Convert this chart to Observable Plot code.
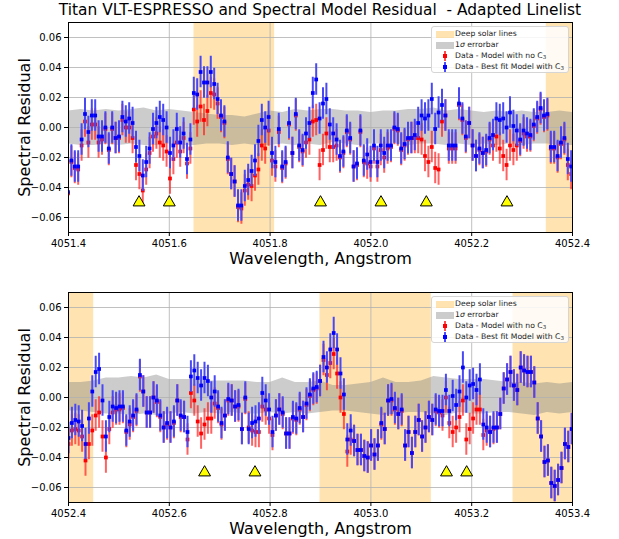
<!DOCTYPE html>
<html><head><meta charset="utf-8">
<script src="https://cdn.jsdelivr.net/npm/d3@7"></script>
<script src="https://cdn.jsdelivr.net/npm/@observablehq/plot@0.6"></script>
<style>
body{margin:0;background:#fff;font-family:"DejaVu Sans",sans-serif;}
#wrap{position:relative;width:619px;height:539px;overflow:hidden;background:#fff;}
#title{position:absolute;left:0;width:640px;top:0px;text-align:center;font-size:15.4px;line-height:20px;color:#000;white-space:nowrap;}
.panel{position:absolute;left:0;}
.legend{position:absolute;left:431px;width:138px;height:47px;background:rgba(255,255,255,0.85);border:1px solid #d5d5d5;border-radius:3px;font-size:7.7px;color:#222;box-sizing:border-box;}
.row{position:absolute;left:0;height:10px;width:100%;}
.row .lab{position:absolute;left:23px;top:0;line-height:10px;white-space:nowrap;}
.patch{position:absolute;left:4px;top:2px;width:18px;height:7px;}
.eb{position:absolute;left:12px;top:0;width:2px;height:10px;opacity:0.7;}
.ebd{position:absolute;left:11px;top:3px;width:4px;height:4px;}
g[aria-label="x-axis label"] text, g[aria-label="y-axis label"] text{font-size:16px;}
</style>
</head><body>
<div id="wrap">
<div id="title">Titan VLT-ESPRESSO and Spectral Model Residual&nbsp; - Adapted Linelist</div>
</div>
<script>
// ---------- data ----------
const wlStep = 0.006746;            // spectral sampling (Angstrom)
const wlStart1 = 4051.399;
const wlStart2 = 4052.400;
const errBar = 0.0105;              // 1-sigma half length of each errorbar

const blue1 = [
-0.043,-0.022,-0.026,-0.026,-0.008,0.009,-0.003,0.008,0.008,-0.006,
-0.006,0.000,-0.014,0.000,-0.007,-0.006,0.007,0.004,0.006,0.003,
-0.013,-0.019,-0.032,-0.023,-0.014,-0.001,0.003,0.007,0.005,0.000,
-0.017,-0.012,-0.001,-0.010,-0.004,-0.021,-0.008,0.023,0.022,0.037,
0.030,0.030,0.037,0.029,0.019,0.008,0.004,-0.020,-0.031,
-0.036,-0.052,-0.052,-0.039,-0.035,-0.029,-0.022,-0.009,0.005,0.000,
0.007,-0.017,-0.023,-0.001,-0.026,-0.023,0.003,-0.017,0.009,-0.012,
-0.015,-0.004,0.003,0.023,0.032,0.006,0.016,0.019,0.002,-0.004,
-0.008,-0.019,-0.016,-0.002,-0.007,-0.026,-0.024,-0.002,-0.022,-0.018,
-0.023,-0.012,-0.023,-0.012,-0.017,-0.012,-0.012,0.000,-0.001,-0.014,
-0.011,-0.007,-0.007,-0.005,0.003,0.008,0.006,0.008,0.019,-0.001,
0.010,0.015,0.008,-0.012,-0.012,-0.012,0.016,0.006,-0.006,0.003,
-0.012,-0.019,-0.014,-0.017,-0.015,-0.007,-0.005,0.006,0.005,0.006,
0.000,0.010,0.001,-0.002,-0.008,-0.002,-0.004,-0.005,0.002,0.007,
0.013,0.008,0.009,-0.013,-0.013,-0.019,-0.010,-0.007,-0.021,-0.026];

const red1 = [
-0.044,-0.023,-0.027,-0.028,-0.012,0.004,-0.010,0.002,0.002,-0.010,
-0.008,-0.001,-0.015,-0.001,-0.007,-0.007,0.005,0.000,0.000,-0.007,
-0.025,-0.031,-0.042,-0.028,-0.017,-0.006,-0.004,-0.010,-0.012,-0.016,
-0.034,-0.021,-0.010,-0.016,-0.007,-0.024,-0.014,0.012,0.004,0.014,
0.005,0.011,0.023,0.022,0.016,0.007,0.003,-0.021,-0.031,
-0.036,-0.053,-0.054,-0.042,-0.038,-0.039,-0.032,-0.028,-0.012,-0.014,
-0.002,-0.022,-0.026,-0.003,-0.027,-0.024,0.002,-0.017,0.008,-0.013,
-0.016,-0.010,-0.008,0.004,0.005,-0.025,-0.015,-0.004,-0.013,-0.013,
-0.012,-0.020,-0.017,-0.003,-0.008,-0.026,-0.025,-0.003,-0.023,-0.024,
-0.026,-0.014,-0.026,-0.015,-0.020,-0.014,-0.013,-0.001,-0.002,-0.015,
-0.012,-0.008,-0.007,-0.007,-0.007,-0.008,-0.019,-0.023,-0.013,-0.027,
-0.028,0.004,0.008,-0.014,-0.014,-0.014,0.015,0.005,-0.007,0.003,
-0.012,-0.019,-0.015,-0.017,-0.016,-0.008,-0.012,-0.006,-0.014,-0.019,
-0.025,-0.012,-0.015,-0.012,-0.009,-0.004,-0.006,-0.006,0.001,0.006,
0.012,0.007,0.008,-0.014,-0.014,-0.020,-0.011,-0.008,-0.025,-0.031];

const blue2 = [
-0.027,-0.017,-0.015,-0.016,-0.019,-0.031,-0.014,0.004,0.017,0.019,
-0.002,-0.026,-0.013,-0.006,-0.007,-0.006,-0.006,-0.022,-0.016,-0.012,
-0.008,0.015,0.004,-0.010,-0.010,0.000,-0.002,-0.012,-0.020,-0.017,
-0.020,-0.016,-0.002,-0.012,-0.013,-0.023,0.014,0.018,0.013,0.008,
0.013,0.011,0.000,0.004,-0.006,-0.017,-0.012,-0.001,-0.002,-0.006,
-0.005,-0.021,0.000,-0.021,-0.017,-0.016,-0.014,0.003,-0.002,-0.008,
-0.023,-0.012,-0.008,-0.010,-0.024,-0.024,-0.013,-0.014,-0.007,-0.013,
-0.004,0.002,0.006,0.007,0.011,0.027,0.020,0.032,0.043,0.032,
0.016,0.002,-0.028,-0.022,-0.029,-0.035,-0.035,-0.039,-0.040,-0.032,
-0.038,-0.032,-0.017,-0.021,-0.002,-0.001,-0.007,-0.011,-0.008,
-0.032,-0.023,-0.037,-0.023,-0.015,-0.026,-0.020,-0.013,-0.015,-0.008,
-0.009,-0.009,0.005,-0.009,0.001,-0.005,0.004,0.020,0.000,0.008,
0.009,0.005,0.012,-0.018,-0.020,-0.023,-0.020,-0.020,-0.011,0.006,
0.012,0.017,0.008,0.005,0.020,0.018,0.017,0.017,0.010,-0.014,
-0.026,-0.043,-0.042,-0.057,-0.059,-0.055,-0.047,-0.031,-0.033,-0.021];

const red2 = [
-0.031,-0.022,-0.021,-0.022,-0.026,-0.042,-0.031,-0.022,-0.012,-0.010,
-0.026,-0.040,-0.021,-0.010,-0.008,-0.008,-0.007,-0.023,-0.018,-0.013,
-0.009,0.014,0.004,-0.010,-0.010,0.000,-0.003,-0.013,-0.020,-0.018,
-0.020,-0.017,-0.002,-0.013,-0.013,-0.028,0.003,-0.002,-0.016,-0.024,
-0.018,-0.014,-0.014,-0.004,-0.007,-0.018,-0.012,-0.002,-0.002,-0.006,
-0.006,-0.021,-0.001,-0.020,-0.022,-0.023,-0.023,-0.006,-0.008,-0.014,
-0.025,-0.012,-0.008,-0.011,-0.024,-0.024,-0.014,-0.015,-0.008,-0.013,
-0.005,0.001,0.005,0.006,0.011,0.025,0.015,0.023,0.029,0.016,
0.000,-0.011,-0.036,-0.028,-0.029,-0.035,-0.035,-0.039,-0.040,-0.032,
-0.038,-0.032,-0.018,-0.021,-0.002,-0.002,-0.008,-0.011,-0.009,
-0.032,-0.023,-0.037,-0.023,-0.015,-0.026,-0.020,-0.013,-0.015,-0.009,
-0.010,-0.012,0.000,-0.017,-0.023,-0.020,-0.013,-0.002,-0.028,-0.021,
-0.014,-0.008,-0.008,-0.025,-0.022,-0.023,-0.021,-0.020,-0.011,0.006,
0.012,0.017,0.008,0.005,0.020,0.018,0.017,0.017,0.010,-0.014,
-0.026,-0.043,-0.042,-0.057,-0.059,-0.055,-0.047,-0.031,-0.033,-0.021];

// 1-sigma band, sampled every 0.025 Angstrom from the panel's left edge
const bandStep = 0.025;
const bandHi1 = [0.011,0.012,0.011,0.012,0.011,0.012,0.013,0.011,0.012,0.011,
0.010,0.009,0.008,0.008,0.007,0.009,0.011,0.010,0.012,0.011,
0.012,0.012,0.011,0.011,0.010,0.011,0.011,0.012,0.012,0.013,
0.011,0.012,0.011,0.010,0.011,0.010,0.011,0.010,0.010,0.011,0.010];
const bandLo1 = [-0.011,-0.012,-0.012,-0.011,-0.012,-0.011,-0.012,-0.012,-0.011,-0.012,
-0.012,-0.011,-0.011,-0.012,-0.011,-0.012,-0.012,-0.011,-0.012,-0.011,
-0.012,-0.010,-0.011,-0.012,-0.011,-0.011,-0.011,-0.012,-0.011,-0.011,
-0.012,-0.011,-0.012,-0.011,-0.012,-0.011,-0.012,-0.011,-0.011,-0.012,-0.012];
const bandHi2 = [0.010,0.010,0.011,0.013,0.013,0.014,0.013,0.015,0.012,0.012,
0.012,0.011,0.011,0.011,0.011,0.010,0.010,0.013,0.010,0.010,
0.011,0.008,0.008,0.009,0.010,0.013,0.010,0.010,0.011,0.014,
0.013,0.012,0.012,0.012,0.011,0.010,0.010,0.009,0.010,0.009,0.010];
const bandLo2 = [-0.009,-0.009,-0.010,-0.011,-0.011,-0.012,-0.011,-0.012,-0.011,-0.010,
-0.011,-0.010,-0.011,-0.010,-0.011,-0.011,-0.010,-0.011,-0.010,-0.011,
-0.010,-0.009,-0.009,-0.010,-0.011,-0.012,-0.011,-0.010,-0.010,-0.011,
-0.012,-0.010,-0.011,-0.011,-0.010,-0.010,-0.011,-0.012,-0.010,-0.011,-0.010];

// deep solar line regions [start, end]
const solarStart1 = [4051.649, 4052.348];
const solarEnd1   = [4051.809, 4052.450];
const solarStart2 = [4052.350, 4052.899, 4053.282];
const solarEnd2   = [4052.450, 4053.120, 4053.450];

// C3 line positions (triangles) and their marker level
const c3Lines1 = [4051.54, 4051.60, 4051.90, 4052.02, 4052.11, 4052.27];
const c3Lines2 = [4052.67, 4052.77, 4053.15, 4053.19];
const c3Level = -0.05;

const xTicks1 = [4051.4, 4051.6, 4051.8, 4052.0, 4052.2, 4052.4];
const xTicks2 = [4052.4, 4052.6, 4052.8, 4053.0, 4053.2, 4053.4];
const yTicks = [-0.06, -0.04, -0.02, 0.00, 0.02, 0.04, 0.06];
const yDomain = [-0.07, 0.07];

// ---------- drawing ----------
function makePanel(wlStart, blue, red, lo, hi, sStart, sEnd, c3, xTicks) {
  const xDomain = [xTicks[0], xTicks[xTicks.length - 1]];
  const pts = blue.map((b, i) => ({x: wlStart + i * wlStep, b, r: red[i]}));
  const band = hi.map((h, i) => ({x: xDomain[0] + i * bandStep, lo: lo[i], hi: h}));
  const shades = sStart.map((s, i) => ({a: s, b: sEnd[i]}));
  return Plot.plot({
    width: 619, height: 270,
    marginLeft: 68, marginRight: 47, marginTop: 22, marginBottom: 38,
    style: {fontFamily: "DejaVu Sans", fontSize: "10px", background: "transparent", color: "#000"},
    x: {domain: xDomain},
    y: {domain: yDomain},
    marks: [
      Plot.rect(shades, {x1: "a", x2: "b", y1: () => yDomain[0], y2: () => yDomain[1], fill: "#ffa500", fillOpacity: 0.3, clip: true}),
      Plot.areaY(band, {x: "x", y1: "lo", y2: "hi", fill: "#808080", fillOpacity: 0.4, clip: true}),
      Plot.gridX(xTicks, {stroke: "#b0b0b0", strokeOpacity: 1, strokeWidth: 0.8}),
      Plot.gridY(yTicks, {stroke: "#b0b0b0", strokeOpacity: 1, strokeWidth: 0.8}),
      Plot.ruleX(pts, {x: "x", y1: d => d.r - errBar, y2: d => d.r + errBar, stroke: "#ff2020", strokeOpacity: 0.7, strokeWidth: 2, clip: true}),
      Plot.dot(pts, {x: "x", y: "r", symbol: "square", r: 2.1, fill: "#ff0000", stroke: "none", clip: true}),
      Plot.ruleX(pts, {x: "x", y1: d => d.b - errBar, y2: d => d.b + errBar, stroke: "#4848f4", strokeOpacity: 1, strokeWidth: 2, clip: true}),
      Plot.dot(pts, {x: "x", y: "b", symbol: "square", r: 2.1, fill: "#0000ff", stroke: "none", clip: true}),
      Plot.dot(c3, {x: d => d, y: () => c3Level, symbol: "triangle", r: 4.4, fill: "#ffff00", stroke: "#000", strokeWidth: 1}),
      Plot.axisX({ticks: xTicks, tickFormat: d3.format(".1f"), tickSize: 4, tickPadding: 3,
        label: "Wavelength, Angstrom", labelAnchor: "center", labelOffset: 31, labelArrow: "none"}),
      Plot.axisY({ticks: yTicks, tickFormat: d3.format(".2f"), tickSize: 4, tickPadding: 3,
        label: "Spectral Residual", labelAnchor: "center", labelOffset: 50, labelArrow: "none"}),
      Plot.frame({stroke: "#000", strokeWidth: 1})
    ]
  });
}

function legendHTML(top) {
  return `<div class="legend" style="top:${top}px">
    <div class="row" style="top:2px"><div class="patch" style="background:rgba(255,165,0,0.3)"></div><div class="lab">Deep solar lines</div></div>
    <div class="row" style="top:13px"><div class="patch" style="background:rgba(128,128,128,0.4)"></div><div class="lab">1<i>σ</i> errorbar</div></div>
    <div class="row" style="top:24px"><div class="eb" style="background:#ff0000"></div><div class="ebd" style="background:#ff0000"></div><div class="lab">Data - Model with no C<sub style="font-size:5.5px;vertical-align:-1px">3</sub></div></div>
    <div class="row" style="top:35px"><div class="eb" style="background:#0000ff"></div><div class="ebd" style="background:#0000ff"></div><div class="lab">Data - Best fit Model with C<sub style="font-size:5.5px;vertical-align:-1px">3</sub></div></div>
  </div>`;
}

const wrap = document.getElementById("wrap");
const p1 = makePanel(wlStart1, blue1, red1, bandLo1, bandHi1, solarStart1, solarEnd1, c3Lines1, xTicks1);
const p2 = makePanel(wlStart2, blue2, red2, bandLo2, bandHi2, solarStart2, solarEnd2, c3Lines2, xTicks2);
p1.classList.add("panel"); p1.style.top = "0px";
p2.classList.add("panel"); p2.style.top = "270px";
wrap.appendChild(p1);
wrap.appendChild(p2);
wrap.insertAdjacentHTML("beforeend", legendHTML(26));
wrap.insertAdjacentHTML("beforeend", legendHTML(296));
</script>
</body></html>
